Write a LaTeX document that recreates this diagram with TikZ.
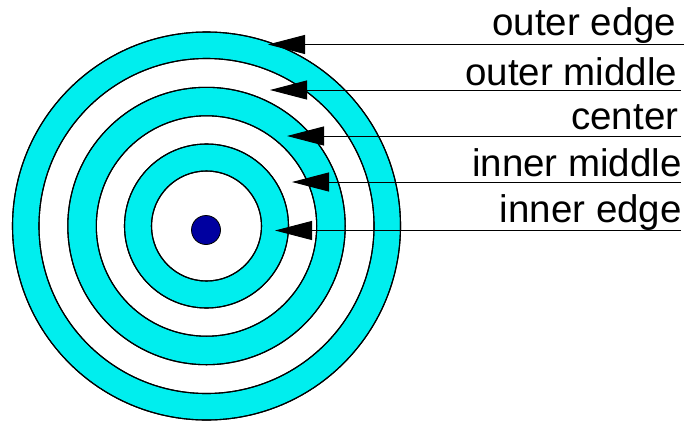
\documentclass[tikz,border=0pt]{standalone}
\usepackage{fontspec}
\setmainfont{Liberation Sans}
\usetikzlibrary{arrows.meta}
\definecolor{ringcyan}{RGB}{0,238,238}
\definecolor{dotblue}{RGB}{0,0,160}
\begin{document}
\begin{tikzpicture}[x=1pt,y=-1pt,
  ring/.style={draw=black,line width=1.1pt},
  lbl/.style={inner sep=0pt,anchor=base east,font=\fontsize{38.5}{40}\selectfont},
  pointer/.style={line width=1pt,-{Triangle[length=37pt,width=19pt]}}]
\useasboundingbox (0,0) rectangle (687,423);
\coordinate (c) at (206.5,226);
\fill[ring,fill=ringcyan] (c) circle[radius=194];
\fill[ring,fill=white] (c) circle[radius=167.5];
\fill[ring,fill=ringcyan] (c) circle[radius=138.7];
\fill[ring,fill=white] (c) circle[radius=110.2];
\fill[ring,fill=ringcyan] (c) circle[radius=82];
\fill[ring,fill=white] (c) circle[radius=55];
\node[circle,draw=black,line width=0.8pt,fill=dotblue,minimum size=29pt,inner sep=0pt] (dot) at (206,230) {};
\draw[ring] (c) circle[radius=194] (c) circle[radius=167.5] (c) circle[radius=138.7]
  (c) circle[radius=110.2] (c) circle[radius=82] (c) circle[radius=55];
% labels
\node[lbl] (l1) at (676.5,35) {outer edge};
\node[lbl] (l2) at (677.5,85) {outer middle};
\node[lbl] (l3) at (678.5,129) {center};
\node[lbl] (l4) at (682,176) {inner middle};
\node[lbl] (l5) at (682,222) {inner edge};
% line ends
\coordinate (e1) at (684,44.5);
\coordinate (e2) at (681,90);
\coordinate (e3) at (681,136);
\coordinate (e4) at (681,182);
\coordinate (e5) at (681,230.5);
\coordinate (t1) at (268,44.5);
\coordinate (t2) at (270,90);
\coordinate (t3) at (287,136);
\coordinate (t4) at (292,182);
\coordinate (t5) at (275,230.5);
\draw[pointer] (e1) -- (t1);
\draw[pointer] (e2) -- (t2);
\draw[pointer] (e3) -- (t3);
\draw[pointer] (e4) -- (t4);
\draw[pointer] (e5) -- (t5);
\end{tikzpicture}
\end{document}
